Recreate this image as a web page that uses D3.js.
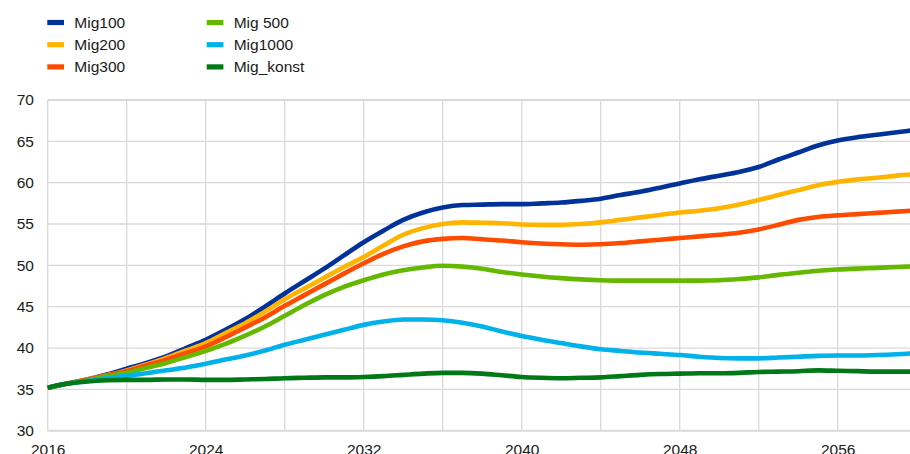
<!DOCTYPE html>
<html>
<head>
<meta charset="utf-8">
<script src="https://cdn.jsdelivr.net/npm/d3@7"></script>
<style>
  html, body { margin: 0; padding: 0; background: #fff; }
  svg { display: block; overflow: hidden; }
  text { font-family: "Liberation Sans", Arial, sans-serif; fill: #1a1a1a; }
</style>
</head>
<body>
<svg id="chart" width="910" height="454"></svg>
<script>
const years = d3.range(2016, 2061);

const mig100 = [35.2,35.7,36.2,36.8,37.5,38.2,39.0,40.0,41.0,42.2,43.5,45.0,46.6,48.1,49.6,51.2,52.8,54.2,55.5,56.4,57.0,57.3,57.35,57.4,57.4,57.5,57.6,57.8,58.05,58.5,58.9,59.4,59.9,60.4,60.85,61.3,61.9,62.8,63.65,64.5,65.1,65.5,65.8,66.1,66.4];
const mig200 = [35.2,35.7,36.2,36.7,37.3,38.0,38.8,39.7,40.6,41.8,43.0,44.4,45.9,47.2,48.5,49.8,51.0,52.4,53.7,54.5,55.0,55.2,55.15,55.1,54.95,54.9,54.9,55.0,55.2,55.5,55.8,56.1,56.4,56.6,56.9,57.35,57.9,58.5,59.1,59.7,60.1,60.4,60.6,60.85,61.05];
const mig300 = [35.2,35.7,36.2,36.7,37.2,37.9,38.6,39.4,40.2,41.3,42.5,43.7,45.1,46.4,47.7,49.0,50.25,51.4,52.3,52.9,53.2,53.3,53.15,53.0,52.8,52.65,52.55,52.5,52.55,52.7,52.9,53.1,53.3,53.5,53.7,53.95,54.35,54.9,55.5,55.85,56.05,56.2,56.35,56.5,56.65];
const mig500 = [35.2,35.7,36.1,36.6,37.0,37.6,38.2,38.9,39.65,40.5,41.5,42.6,43.9,45.2,46.4,47.4,48.2,48.9,49.4,49.75,49.95,49.85,49.6,49.2,48.9,48.65,48.45,48.3,48.2,48.15,48.15,48.15,48.15,48.15,48.2,48.35,48.55,48.85,49.1,49.35,49.5,49.6,49.7,49.8,49.9];
const mig1000 = [35.2,35.7,36.0,36.35,36.65,36.95,37.3,37.65,38.1,38.6,39.1,39.7,40.4,41.0,41.6,42.2,42.8,43.2,43.45,43.45,43.35,43.05,42.6,42.0,41.45,41.0,40.6,40.2,39.85,39.65,39.45,39.3,39.15,38.95,38.8,38.75,38.75,38.85,38.95,39.05,39.1,39.1,39.15,39.25,39.4];
const migKonst = [35.2,35.7,35.95,36.1,36.15,36.15,36.2,36.2,36.15,36.15,36.2,36.25,36.35,36.4,36.45,36.45,36.5,36.6,36.75,36.9,37.0,37.0,36.9,36.7,36.5,36.4,36.35,36.4,36.45,36.6,36.75,36.85,36.9,36.95,36.95,37.0,37.1,37.15,37.2,37.3,37.25,37.2,37.15,37.15,37.15];

const seriesNames = ["Mig100", "Mig200", "Mig300", "Mig 500", "Mig1000", "Mig_konst"];
const seriesValues = [mig100, mig200, mig300, mig500, mig1000, migKonst];
const seriesColors = ["#003299", "#FFB400", "#FF4B00", "#65B800", "#00B1EA", "#007816"];

const xTickLabels = [2016, 2024, 2032, 2040, 2048, 2056];
const xGridYears = d3.range(2016, 2061, 4);
const yTicks = [30, 35, 40, 45, 50, 55, 60, 65, 70];

const svg = d3.select("#chart");
const x = d3.scaleLinear().domain([2016, 2060]).range([47.7, 916.7]);
const y = d3.scaleLinear().domain([30, 70]).range([430.7, 100]);

// grid
const grid = svg.append("g");
grid.selectAll("line.h").data(yTicks).join("line")
  .attr("x1", x(2016)).attr("x2", 910)
  .attr("y1", d => y(d)).attr("y2", d => y(d))
  .attr("stroke", "#d9d9d9").attr("stroke-width", d => (d === 30 || d === 70) ? 2 : 1.3);
grid.selectAll("line.v").data(xGridYears).join("line")
  .attr("x1", d => x(d)).attr("x2", d => x(d))
  .attr("y1", y(70)).attr("y2", y(30))
  .attr("stroke", "#d9d9d9").attr("stroke-width", 1.3);

// y axis
const yAxis = svg.append("g").attr("transform", "translate(34,0)")
  .call(d3.axisLeft(y).tickValues(yTicks).tickSize(0).tickPadding(0).tickFormat(d3.format("d")));
yAxis.select(".domain").remove();
yAxis.selectAll("text").attr("font-size", "15.5px").attr("font-family", "Liberation Sans, Arial, sans-serif").attr("fill", "#1a1a1a");

// x axis
const xAxis = svg.append("g").attr("transform", "translate(0,440)")
  .call(d3.axisBottom(x).tickValues(xTickLabels).tickSize(0).tickPadding(0).tickFormat(d3.format("d")));
xAxis.select(".domain").remove();
xAxis.selectAll("text").attr("font-size", "15.5px").attr("font-family", "Liberation Sans, Arial, sans-serif").attr("fill", "#1a1a1a").attr("dy", "0.95em");

// lines
const line = d3.line().x((d, i) => x(years[i])).y(d => y(d)).curve(d3.curveMonotoneX);
svg.append("g").selectAll("path").data(seriesValues).join("path")
  .attr("d", d => line(d))
  .attr("fill", "none")
  .attr("stroke", (d, i) => seriesColors[i])
  .attr("stroke-width", 4.6)
  .attr("stroke-linejoin", "round")
  .attr("stroke-linecap", "butt");

// legend
const legend = svg.append("g");
const items = legend.selectAll("g").data(seriesNames).join("g")
  .attr("transform", (d, i) => `translate(${i < 3 ? 47.3 : 206.7},${22.5 + (i % 3) * 22.2})`);
items.append("rect").attr("x", 0).attr("y", -2.6).attr("width", 16.7).attr("height", 5.2)
  .attr("fill", (d, i) => seriesColors[i]);
items.append("text").attr("x", 27).attr("y", 0).attr("dy", "0.36em")
  .attr("font-size", "15.5px").text(d => d);
</script>
</body>
</html>
